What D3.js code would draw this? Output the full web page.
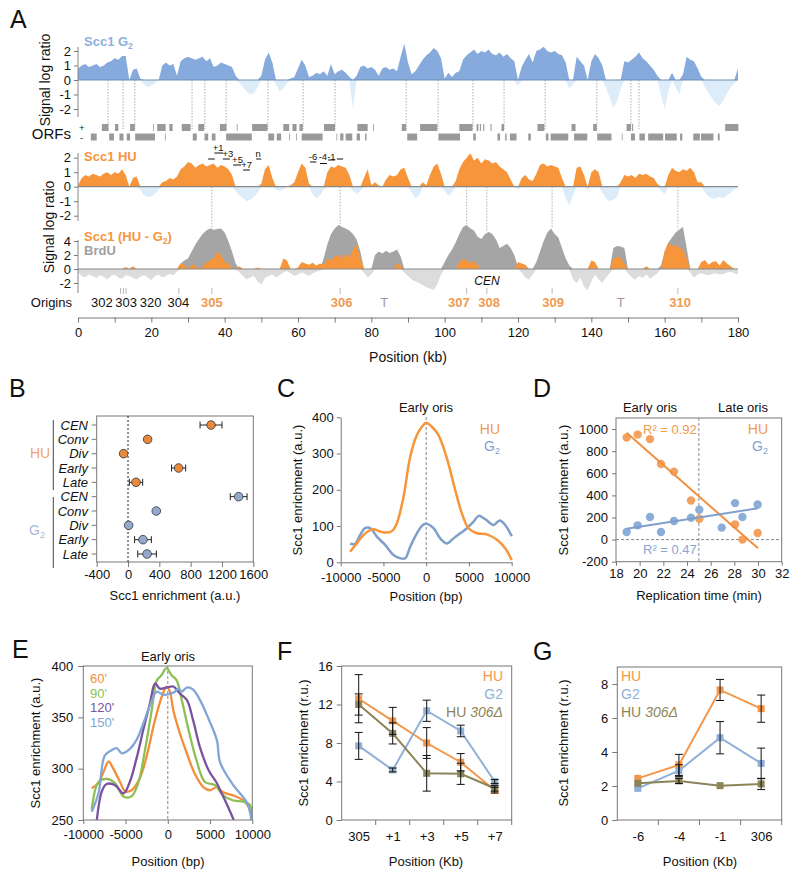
<!DOCTYPE html>
<html><head><meta charset="utf-8">
<script src="https://cdn.jsdelivr.net/npm/d3@7"></script>
<style>body{margin:0;background:#fff}svg{font-family:"Liberation Sans",Arial,sans-serif}</style>
</head><body><svg id="c" width="800" height="879"></svg>
<script>
const FONT = "'Liberation Sans', Arial, sans-serif";
// ---------------- Panel A data (1 kb bins, 0..180 kb) ----------------
const g2Signal = [0.8,1.0,1.1,0.9,1.0,1.1,0.9,1.0,1.2,1.3,
 1.5,1.4,1.65,1.65,0,0.7,0.8,0.1,-0.3,-0.5,
 -0.4,-0.2,0,1.0,1.2,1.0,1.1,0.3,1.3,1.5,
 1.6,1.5,1.4,1.5,1.6,1.3,1.5,0.9,1.0,1.2,
 1.1,1.0,0.9,0.3,-0.2,-0.5,-0.8,-1.0,-0.9,-0.5,
 0.3,1.4,1.9,1.2,-0.3,-0.8,-0.6,-0.2,0.1,0.2,
 0.8,1.4,1.0,0.2,0.3,0.5,0.4,0.6,0.3,1.1,
 0.4,0.6,0.7,0.5,0.2,-2.0,0.3,0.9,1.0,0.8,
 0.9,0.7,0.3,0.8,0.9,0.7,0.8,0.6,1.6,2.5,
 1.2,0.4,0.6,1.0,1.4,1.7,1.9,2.2,2.0,1.5,
 0.1,0.5,0.2,0.5,0.6,1.4,1.7,1.9,2.1,1.8,
 2.0,1.9,2.1,1.8,1.7,1.9,1.6,1.8,1.5,1.3,
 -0.4,0.9,1.4,1.8,1.2,2.0,2.1,2.3,2.0,1.9,
 2.0,1.8,1.7,1.2,-0.6,-0.3,1.6,1.3,1.0,0,
 1.3,1.8,1.5,1.0,-0.5,-1.2,-1.9,-1.5,-0.6,1.3,
 1.2,1.4,1.6,1.9,1.5,1.3,1.0,0.7,0.3,-1.0,
 -2.0,-0.8,0.5,-0.5,-1.0,0.4,1.6,1.4,1.3,0.8,
 0.2,-0.5,-0.9,-1.3,-1.6,-1.8,-1.4,-0.9,-0.5,-0.2,
 0.8];
const huSignal = [0.1,0.6,0.8,0.7,0.9,0.8,0.7,0.9,1.0,0.8,
 1.0,0.9,1.2,0.8,0,0.6,0.7,-0.2,-0.6,-0.7,
 -0.7,-0.5,-0.2,0.3,0.4,0.6,0.5,0.7,1.2,1.4,
 1.7,1.6,1.3,1.5,1.6,1.4,1.5,1.6,1.3,1.5,
 1.4,1.2,0.8,-0.3,-0.6,-0.8,-1.0,-0.9,-0.7,-0.4,
 0.2,1.2,1.5,0.6,-0.2,-0.3,-0.2,0,0.1,0.3,
 1.0,1.6,1.3,0.2,-0.5,-0.8,-0.6,-0.2,1.0,1.4,
 1.3,1.5,1.4,1.3,0.8,-0.3,-0.5,-0.3,0.6,1.2,
 0.1,0.3,0.1,0,0.5,0.8,0.7,0.8,1.2,1.3,
 0.6,-0.4,-0.8,-0.6,0.3,0.1,0.8,1.4,1.6,0.9,
 -0.3,-0.6,-0.4,0.4,1.2,1.7,2.0,2.3,1.8,2.0,
 1.6,1.9,1.8,1.6,1.7,1.4,1.2,1.0,0.5,0,
 -0.2,0.6,0.8,0.5,0.4,0.9,1.5,1.6,1.4,1.5,
 1.4,1.3,0.6,-0.8,-1.3,-0.6,1.3,1.4,0.8,-0.2,
 1.0,1.2,1.0,-0.4,-0.8,-1.0,-0.9,-0.7,0.3,0.8,
 0.7,0.8,0.6,0.9,0.8,0.9,0.7,0.6,0.2,-0.3,
 -0.5,0.8,1.3,1.1,1.0,1.2,1.1,1.3,1.0,0.3,
 0.3,-0.4,-0.7,-0.8,-0.8,-0.7,-0.8,-0.6,-0.4,-0.2,
 0];
const brduSignal = [-0.5,-1.0,-1.2,-0.8,-1.0,-1.3,-0.9,-1.1,-1.5,-1.0,
 -0.8,-1.2,-1.4,-0.9,-1.0,-1.3,-1.5,-1.1,-0.9,-1.2,
 -1.6,-1.0,-0.8,-1.2,-1.0,-0.7,-0.9,-0.4,0.8,1.2,
 1.5,2.5,3.5,4.3,5.0,5.5,5.8,5.6,5.7,5.8,
 5.2,4.0,2.5,0.8,-0.5,-1.0,-1.5,-1.2,-1.0,-1.8,
 -2.2,-1.3,-1.0,-0.8,-1.2,-0.9,-0.5,-0.3,-0.6,-1.0,
 -0.8,-0.5,-0.7,-1.0,-0.6,-0.4,-0.2,1.5,3.5,5.0,
 5.8,6.3,6.0,5.8,5.5,5.0,4.2,2.5,-0.5,-1.2,
 -0.8,2.0,2.5,2.2,2.6,2.3,2.5,2.8,1.8,-0.5,
 -1.0,-1.5,-1.8,-2.0,-2.3,-2.6,-2.8,-3.0,-2.2,-0.8,
 1.0,2.0,2.8,3.8,5.0,6.0,6.3,5.8,5.5,4.6,
 4.3,5.0,5.3,5.0,4.2,3.0,3.3,3.6,3.0,2.0,
 0.3,-0.5,-1.2,-1.5,-0.8,1.0,2.5,4.0,5.2,5.8,
 5.0,4.5,3.0,1.5,0.5,-1.5,-2.0,-1.2,-2.5,-3.0,
 -1.8,-0.8,-1.5,-2.0,-1.2,-0.6,3.0,3.3,3.2,3.0,
 -0.6,-1.2,-1.5,-1.0,-1.3,-0.8,-1.4,-1.0,-0.6,0.5,
 2.5,3.8,4.5,5.2,5.6,6.0,3.0,-0.5,-1.2,-0.8,
 -0.6,-0.8,-0.9,-0.7,-0.6,-0.8,-0.7,-0.5,-0.4,-0.6,
 -0.8];
const huMinusG2 = [0,0,0,0,0,0,0,0,0,0,
 0,0,0,0.3,0,0.4,0,0,0,0,
 0,0,0,0,0,0,0,0,0.8,0.6,
 0,0.6,0.5,0,0.3,1.0,1.2,1.5,2.5,2.0,
 1.0,0.8,0,0,0.4,0,0,0,0,0.2,
 0,0,0,0,0,0,1.5,1.2,0,0,
 0.2,1.0,0.8,0.6,0.9,0.5,0.8,0.6,1.5,1.2,
 1.8,2.0,1.5,2.2,1.6,2.8,3.5,1.5,0,0,
 0,0,0,0,0,0,0,0.8,0.5,0,
 0,0,0,0,0,0,0,0,0,0,
 0,0,0,0,1.0,1.4,1.3,0.8,1.2,0.5,
 0,0,0,0,0,0,0,0,0,0,
 1.0,0.8,0.6,0,0,0,0,0,0,0,
 0,0,0,0,0,0,0,0,0,0,
 1.2,1.0,0,0,0,0,1.5,1.7,1.6,0.8,
 0,0,0,0,0,0.4,0,0,0,0,
 2.5,3.8,3.2,3.5,3.0,2.8,1.5,0,0,0,
 1.0,1.3,0.6,1.0,1.1,0.5,1.3,0.8,0.4,0,
 0];
const orfPlus = [[6.5,8.3],[10.1,11],[14.2,15.5],[20.5,20.7],[21.6,23.9],[24.9,25.8],[28.3,30.7],[32.8,34.4],[38.7,40.5],[43.3,43.5],[47.5,51.7],[56,57.6],[58.5,59.6],[60.4,61.3],[67.1,70.1],[76.2,79],[80.5,80.7],
 [88.3,89.5],[93.3,98],[104,107.6],[108.7,109.2],[109.6,109.9],[110.5,110.8],[112.5,112.8],[115.5,116.2],[125.3,127.2],[134.6,135.7],[140.5,141.5],[149.6,150.8],[151.1,151.4],[176.5,180.1]];
const orfMinus = [[3.5,5.1],[8.5,9.8],[11.3,12.4],[13.3,14.2],[15.6,21],[23.7,23.9],[31.3,32.4],[34.5,35.5],[36.5,37.5],[40.4,47.4],[51.9,53.5],[54.2,55.4],[57.6,57.8],[59.5,59.6],[61,66.7],[70.5,70.7],[71.5,72.4],[73,74.8],[76,76.9],[78.3,78.7],
 [89.8,92.5],[98.3,104.2],[107.8,108.5],[114.4,115.1],[116.5,116.9],[117.8,119.6],[122.8,123.5],[127.6,128.3],[128.9,133.7],[135.3,138.9],[141.6,145.5],[148.3,148.5],[150.8,151.9],[153.1,154.6],[155.5,159.6],[160.1,163.3],[164.2,164.8],[167.8,169.6],[169.9,173.3],[174.5,175]];
const g2MarkKb = [8.2,12.3,15.5,31.1,34.6,40.4,51.8,61.4,70.1,89.5,98.2,107.7,116.2,127.4,141.5,150.8,153];
const earlyOriKb = [36.5,71.5,106,111.5,129.3,163.6];
const originTickKb = [11.6,12.4,13.1,27.5,36.5,71.5,106,111.5,129.3,163.6];
const originNames = ["302","303","320","304","305","306","T","307","308","309","T","310"];
const originLabelKb = [6.5,13.1,19.8,27.4,36.5,71.9,83.5,103.9,112.1,129.6,148,164.2];
const originKind = ["late","late","late","late","early","early","t","early","early","early","t","early"];
const primerNames = ["+1","+3","+5","+7","n","-6","-4","-1"];
const primerLabelKb = [38.2,40.9,43.5,46,49.1,64.1,66.8,69.1];
const primerDashKb = [[35.5,37.3],[37.2,39.6],[39.5,41.4],[42.3,44.5],[45,46.9],[48.6,50],[63.3,65],[66,67.9],[68.2,70.1],[70.6,72.3]];
const primerDashY = [159,153,159,165,170,159,162,163.5,160,159];
const primerLabelY = [151,157,163,168,157,160,160,160];
const xTicksA = d3.range(0,181,10);

// ---------------- Panel B ----------------
const bRows = ["CEN","Conv","Div","Early","Late","CEN","Conv","Div","Early","Late"];
const bGroup = ["HU","HU","HU","HU","HU","G2","G2","G2","G2","G2"];
const bValue = [1060,250,-56,646,102,1413,361,8,191,243];
const bErr = [140,0,0,90,85,107,0,0,107,119];

// ---------------- Panel C ----------------
const cHUx = [-8900,-8130,-7350,-6550,-6160,-5380,-4600,-4020,-3430,-2650,-1870,-1090,-500,0,660,1440,2420,3390,4170,4950,5930,7100,8270,9240,10000];
const cHUy = [29,52,75,89,91,85,82,86,108,181,291,351,374,385,374,351,287,200,135,94,80,77,62,39,6];
const cG2x = [-8900,-8300,-7740,-7150,-6550,-5770,-4800,-3820,-3040,-2460,-1870,-1090,-390,80,860,1640,2420,3200,3980,4760,5540,6120,6900,7880,8580,9240,9830,10000];
const cG2y = [51,51,75,94,94,71,48,20,11,11,43,80,103,106,94,66,52,66,80,94,112,128,119,103,115,103,80,72];

// ---------------- Panel D ----------------
const dTime = [18.9,19.83,20.87,21.8,22.9,24.34,25.04,28.06,28.68,29.97];
const dTimeG2 = [18.9,19.83,20.87,21.8,22.9,24.34,25.04,26.93,28.06,28.68,29.97];
const dHU = [924,950,909,684,615,354,189,138,0,60];
const dG2 = [69,129,204,69,168,198,270,108,330,204,318];

// ---------------- Panel E ----------------
const e60x = [-9000,-8200,-7600,-7000,-6450,-5650,-5050,-4300,-3300,-2500,-1700,-1100,-500,-150,250,650,1450,2250,3200,4200,5000,5800,6550,7750,8950,9900,10000];
const e60y = [281,286,297,307,300,287,278,279,291,312,341,360,375,380,375,357,334,315,295,282,279,282,277,274,269,258,256];
const e90x = [-9000,-8200,-7250,-6250,-5250,-4300,-3500,-2700,-1900,-1300,-750,-150,450,1050,1650,2450,3400,4400,5600,6550,7750,8950,9700,10000];
const e90y = [260,287,290,286,273,273,286,318,357,386,391,398,391,386,367,338,308,287,284,274,269,268,265,250];
const e120x = [-8400,-7800,-7250,-6250,-5250,-4500,-3700,-2900,-2100,-1500,-950,-150,650,1450,2250,3000,3800,4800,5800,6200,7000,7800];
const e120y = [250,278,285,284,276,287,310,338,364,383,378,379,380,373,367,347,321,299,286,279,265,250];
const e150x = [-9000,-8200,-7450,-6650,-6050,-5450,-4650,-3700,-2900,-2100,-1300,-550,250,850,1250,1650,2250,3000,3800,4800,5800,6200,7750,9350,9900];
const e150y = [258,276,313,318,320,315,318,328,344,362,375,372,373,375,378,375,379,377,367,349,328,306,284,267,250];

// ---------------- Panel F ----------------
const fCats = ["305","+1","+3","+5","+7"];
const fHU = [12.6,10.3,8.0,6.0,3.1], fHUerr = [2.5,1.4,1.6,0.9,0.3];
const fG2 = [7.7,5.2,11.35,9.25,4.0], fG2err = [1.4,0.2,1.1,0.6,0.2];
const fHU306 = [12.0,9.0,4.85,4.8,3.3], fHU306err = [1.1,1.1,1.85,1.1,0.3];

// ---------------- Panel G ----------------
const gCats = ["-6","-4","-1","306"];
const gHU = [2.45,3.24,7.65,6.55], gHUerr = [0.1,0.62,0.62,0.8];
const gG2 = [1.86,2.9,4.84,3.33], gG2err = [0.1,0.35,0.95,0.9];
const gHU306 = [2.16,2.3,2.02,2.12], gHU306err = [0.1,0.15,0.05,0.33];

// ---------------- colours ----------------
const C_BLUE = "#86aadc", C_LBLUE = "#dcecf8", C_ORANGE = "#f7953b", C_GRAY = "#a5a5a5", C_LGRAY = "#dcdcdc";
const C_OLIVE = "#8c8458";

const svg = d3.select("#c");
function txt(x, y, s, o = {}) {
  const t = svg.append("text").attr("x", x).attr("y", y).text(s)
    .attr("font-size", o.size || 13).attr("fill", o.fill || "#111")
    .attr("text-anchor", o.anchor || "start").attr("font-family", FONT);
  if (o.weight) t.attr("font-weight", o.weight);
  if (o.italic) t.attr("font-style", "italic");
  if (o.rotate) t.attr("transform", `rotate(-90 ${x} ${y})`);
  return t;
}
function subTxt(x, y, a, b, o = {}) {
  const t = txt(x, y, "", o);
  t.append("tspan").text(a);
  t.append("tspan").text(b).attr("font-size", (o.size || 13) * 0.65).attr("dy", 3);
  return t;
}
function styleAx(g, size = 13) {
  g.attr("font-family", FONT);
  g.select(".domain").attr("stroke", "#777");
  g.selectAll(".tick line").attr("stroke", "#777");
  g.selectAll(".tick text").attr("font-size", size).attr("fill", "#111");
  return g;
}
const fmt = d => String(d);

// ======================= PANEL A =======================
txt(10, 28, "A", {size: 25});
const xA = d3.scaleLinear([0, 180], [78, 738]);
const yG2 = d3.scaleLinear([-2, 2], [109, 51]);
const yHU = d3.scaleLinear([-2, 2], [215.7, 157.7]);
const yDf = d3.scaleLinear([-2, 4], [283, 241]);
const kb = d3.range(0, 181);

function signalTrack(vals, y, posCol, negCol, showNeg = true) {
  const pos = d3.area().x((d, i) => xA(kb[i])).y0(y(0)).y1(d => y(Math.max(d, 0)));
  const neg = d3.area().x((d, i) => xA(kb[i])).y0(y(0)).y1(d => y(Math.min(d, 0)));
  if (showNeg) svg.append("path").attr("d", neg(vals)).attr("fill", negCol);
  svg.append("path").attr("d", pos(vals)).attr("fill", posCol);
}
function trackAxis(y, ticks, top, bot, zeroCol) {
  const g = svg.append("g").attr("transform", "translate(78,0)")
    .call(d3.axisLeft(y).tickValues(ticks).tickFormat(fmt).tickSize(4).tickPadding(3));
  styleAx(g, 13);
  g.select(".domain").remove();
  svg.append("line").attr("x1", 78).attr("x2", 78).attr("y1", top).attr("y2", bot).attr("stroke", "#888");
  svg.append("line").attr("x1", 78).attr("x2", 738).attr("y1", y(0)).attr("y2", y(0)).attr("stroke", zeroCol).attr("stroke-width", 1.2);
}
// track 1
signalTrack(g2Signal, yG2, C_BLUE, C_LBLUE);
trackAxis(yG2, [2, 1, 0, -1, -2], 47, 117, "#6f8db5");
subTxt(84, 46, "Scc1 G", "2", {size: 13, weight: "bold", fill: "#8fb0dc"});
g2MarkKb.forEach(k => svg.append("line").attr("x1", xA(k)).attr("x2", xA(k)).attr("y1", yG2(0)).attr("y2", 129)
  .attr("stroke", "#999").attr("stroke-dasharray", "1.5,1.5").attr("stroke-width", 0.8));
txt(50, 80, "Signal log ratio", {size: 14, anchor: "middle", rotate: true});
// ORFs
txt(71, 139, "ORFs", {size: 15, anchor: "end"});
txt(79, 130.5, "+", {size: 9.5});
txt(80, 141, "-", {size: 9.5});
orfPlus.forEach(o => svg.append("rect").attr("x", xA(o[0])).attr("width", Math.max(0.8, xA(o[1]) - xA(o[0])))
  .attr("y", 124).attr("height", 7).attr("fill", "#999"));
orfMinus.forEach(o => svg.append("rect").attr("x", xA(o[0])).attr("width", Math.max(0.8, xA(o[1]) - xA(o[0])))
  .attr("y", 133.5).attr("height", 7).attr("fill", "#999"));
// track 2
signalTrack(huSignal, yHU, C_ORANGE, C_LBLUE);
trackAxis(yHU, [2, 1, 0, -1, -2], 153, 221, "#888");
txt(84, 161, "Scc1 HU", {size: 13, weight: "bold", fill: C_ORANGE});
primerNames.forEach((p, i) => txt(xA(primerLabelKb[i]), primerLabelY[i], p, {size: 9.5, anchor: "middle"}));
primerDashKb.forEach((d, i) => svg.append("line").attr("x1", xA(d[0])).attr("x2", xA(d[1]))
  .attr("y1", primerDashY[i]).attr("y2", primerDashY[i]).attr("stroke", "#111").attr("stroke-width", 1));
// track 3
signalTrack(brduSignal, yDf, C_GRAY, C_LGRAY);
signalTrack(huMinusG2, yDf, C_ORANGE, C_LGRAY, false);
trackAxis(yDf, [4, 2, 0, -2], 240, 293, "#888");
earlyOriKb.forEach(k => {
  const v = brduSignal[Math.round(k)];
  svg.append("line").attr("x1", xA(k)).attr("x2", xA(k)).attr("y1", yHU(0)).attr("y2", yDf(v))
    .attr("stroke", "#999").attr("stroke-dasharray", "1.5,1.5").attr("stroke-width", 0.8);
});
subTxt(84, 241, "Scc1 (HU - G", "2", {size: 13, weight: "bold", fill: C_ORANGE}).append("tspan").attr("dy", -3).text(")");
txt(84, 255, "BrdU", {size: 13, weight: "bold", fill: "#a0a0a0"});
txt(54, 227, "Signal log ratio", {size: 14, anchor: "middle", rotate: true});
txt(487, 285, "CEN", {size: 12, italic: true, anchor: "middle"});
// origins
txt(72, 307, "Origins", {size: 13, anchor: "end"});
originTickKb.forEach(k => svg.append("line").attr("x1", xA(k)).attr("x2", xA(k)).attr("y1", 288).attr("y2", 294)
  .attr("stroke", "#aaa").attr("stroke-width", 0.8));
originNames.forEach((n, i) => {
  const k = originKind[i];
  txt(xA(originLabelKb[i]), 307, n, {size: 13, anchor: "middle",
    fill: k === "early" ? "#f09a52" : (k === "t" ? "#9a9a9a" : "#111"), weight: k === "early" ? "bold" : null});
});
// x axis
const gxA = svg.append("g").attr("transform", "translate(0,317.5)")
  .call(d3.axisBottom(xA).tickValues(xTicksA).tickFormat(d => d % 20 === 0 ? d : "").tickSize(5).tickSizeOuter(0).tickPadding(5));
styleAx(gxA, 13);
txt(408, 362, "Position (kb)", {size: 14, anchor: "middle"});

// ======================= PANEL B =======================
txt(9, 397, "B", {size: 25});
const xB = d3.scaleLinear([-400, 1600], [96.7, 253.3]);
const yB = d3.scalePoint().domain(d3.range(10)).range([425, 554]);
svg.append("rect").attr("x", 96.7).attr("y", 416).attr("width", 253.3 - 96.7).attr("height", 146).attr("fill", "none").attr("stroke", "#777");
const gxB = svg.append("g").attr("transform", "translate(0,562)").call(d3.axisBottom(xB).tickValues([-400,0,400,800,1200,1600]).tickFormat(fmt).tickSize(5).tickSizeOuter(0));
styleAx(gxB); gxB.select(".domain").remove();
d3.range(10).forEach(i => {
  svg.append("line").attr("x1", 91.7).attr("x2", 96.7).attr("y1", yB(i)).attr("y2", yB(i)).attr("stroke", "#777");
  txt(88, yB(i) + 4.5, bRows[i], {size: 13, italic: true, anchor: "end"});
});
svg.append("line").attr("x1", xB(0)).attr("x2", xB(0)).attr("y1", 416).attr("y2", 562).attr("stroke", "#222").attr("stroke-dasharray", "2,2");
d3.range(10).forEach(i => {
  const y = yB(i), v = bValue[i], e = bErr[i];
  if (e > 0) {
    svg.append("line").attr("x1", xB(v - e)).attr("x2", xB(v + e)).attr("y1", y).attr("y2", y).attr("stroke", "#222");
    [v - e, v + e].forEach(z => svg.append("line").attr("x1", xB(z)).attr("x2", xB(z)).attr("y1", y - 3.5).attr("y2", y + 3.5).attr("stroke", "#222"));
  }
  svg.append("circle").attr("cx", xB(v)).attr("cy", y).attr("r", 4.3)
    .attr("fill", bGroup[i] === "HU" ? "#e8893c" : "#93aacd").attr("stroke", "#333").attr("stroke-width", 0.8);
});
svg.append("line").attr("x1", 53.3).attr("x2", 53.3).attr("y1", 420).attr("y2", 490).attr("stroke", "#444");
svg.append("line").attr("x1", 53.3).attr("x2", 53.3).attr("y1", 497).attr("y2", 568).attr("stroke", "#444");
txt(40, 458, "HU", {size: 14, anchor: "middle", fill: "#f0a468"});
subTxt(37, 535, "G", "2", {size: 14, anchor: "middle", fill: "#a9b9d8"});
txt(175, 600, "Scc1 enrichment (a.u.)", {size: 13, anchor: "middle"});

// ======================= PANEL C =======================
txt(277, 397, "C", {size: 25});
const xC = d3.scaleLinear([-10000, 10000], [340.7, 511.7]);
const yC = d3.scaleLinear([0, 400], [562.3, 417.3]);
const gyC = svg.append("g").attr("transform", "translate(340.7,0)").call(d3.axisLeft(yC).ticks(4).tickFormat(fmt).tickSize(4).tickPadding(3).tickSizeOuter(0));
styleAx(gyC);
const gxC = svg.append("g").attr("transform", "translate(0,562.3)").call(d3.axisBottom(xC).tickValues([-10000,-5000,0,5000,10000]).tickFormat(fmt).tickSize(4).tickPadding(6).tickSizeOuter(0));
styleAx(gxC);
svg.append("line").attr("x1", xC(0)).attr("x2", xC(0)).attr("y1", 417).attr("y2", 562).attr("stroke", "#888").attr("stroke-dasharray", "3,2");
const lineC = d3.line().curve(d3.curveCatmullRom.alpha(0.5));
svg.append("path").attr("d", lineC(cG2x.map((x, i) => [xC(x), yC(cG2y[i])]))).attr("fill", "none").attr("stroke", "#7f9fcb").attr("stroke-width", 2.5);
svg.append("path").attr("d", lineC(cHUx.map((x, i) => [xC(x), yC(cHUy[i])]))).attr("fill", "none").attr("stroke", C_ORANGE).attr("stroke-width", 2.5);
txt(426, 412, "Early oris", {size: 13, anchor: "middle"});
txt(500, 434, "HU", {size: 14, anchor: "end", fill: "#f39a4c"});
subTxt(500, 451, "G", "2", {size: 14, anchor: "end", fill: "#7f9fcb"});
txt(302, 490, "Scc1 enrichment (a.u.)", {size: 13, anchor: "middle", rotate: true});
txt(426, 601, "Position (bp)", {size: 13, anchor: "middle"});

// ======================= PANEL D =======================
txt(533, 397, "D", {size: 25});
const xD = d3.scaleLinear([18, 32], [616, 781.7]);
const yD = d3.scaleLinear([-200, 1100], [561.7, 418]);
svg.append("rect").attr("x", 616).attr("y", 418).attr("width", 165.7).attr("height", 143.7).attr("fill", "none").attr("stroke", "#777");
const gyD = svg.append("g").attr("transform", "translate(616,0)").call(d3.axisLeft(yD).tickValues(d3.range(-200, 1001, 200)).tickFormat(fmt).tickSize(4).tickPadding(4).tickSizeOuter(0));
styleAx(gyD); gyD.select(".domain").remove();
const gxD = svg.append("g").attr("transform", "translate(0,561.7)").call(d3.axisBottom(xD).tickValues(d3.range(18, 33, 2)).tickFormat(fmt).tickSize(4).tickSizeOuter(0));
styleAx(gxD); gxD.select(".domain").remove();
svg.append("line").attr("x1", xD(25)).attr("x2", xD(25)).attr("y1", 418).attr("y2", 561.7).attr("stroke", "#888").attr("stroke-dasharray", "3,2");
svg.append("line").attr("x1", 616).attr("x2", 781.7).attr("y1", yD(0)).attr("y2", yD(0)).attr("stroke", "#888").attr("stroke-dasharray", "3,2");
function linfit(xs, ys) {
  const mx = d3.mean(xs), my = d3.mean(ys);
  const b = d3.sum(xs, (x, i) => (x - mx) * (ys[i] - my)) / d3.sum(xs, x => (x - mx) ** 2);
  return x => my + b * (x - mx);
}
const fHUfit = linfit(dTime, dHU), fG2fit = linfit(dTimeG2, dG2);
dTime.forEach((t, i) => svg.append("circle").attr("cx", xD(t)).attr("cy", yD(dHU[i])).attr("r", 4.2).attr("fill", "#f4a160"));
dTimeG2.forEach((t, i) => svg.append("circle").attr("cx", xD(t)).attr("cy", yD(dG2[i])).attr("r", 4.2).attr("fill", "#8badd8"));
svg.append("line").attr("x1", xD(18.9)).attr("x2", xD(30)).attr("y1", yD(fHUfit(18.9))).attr("y2", yD(fHUfit(30))).attr("stroke", "#f0903e").attr("stroke-width", 2);
svg.append("line").attr("x1", xD(18.9)).attr("x2", xD(30)).attr("y1", yD(fG2fit(18.9))).attr("y2", yD(fG2fit(30))).attr("stroke", "#7e9fcc").attr("stroke-width", 2);
txt(650, 412, "Early oris", {size: 13, anchor: "middle"});
txt(743, 412, "Late oris", {size: 13, anchor: "middle"});
txt(643, 434, "R² = 0.92", {size: 13, fill: "#f39a4c"});
txt(643, 554, "R² = 0.47", {size: 13, fill: "#8aa7d2"});
txt(768, 434, "HU", {size: 14, anchor: "end", fill: "#f39a4c"});
subTxt(768, 451, "G", "2", {size: 14, anchor: "end", fill: "#7f9fcb"});
txt(568, 490, "Scc1 enrichment (a.u.)", {size: 13, anchor: "middle", rotate: true});
txt(699, 600, "Replication time (min)", {size: 13, anchor: "middle"});

// ======================= PANEL E =======================
txt(12, 658, "E", {size: 25});
const xE = d3.scaleLinear([-10000, 10000], [83.3, 252.3]);
const yE = d3.scaleLinear([250, 400], [820, 666]);
svg.append("clipPath").attr("id", "clipE").append("rect").attr("x", 83.3).attr("y", 666).attr("width", 169).attr("height", 154);
const gyE = svg.append("g").attr("transform", "translate(83.3,0)").call(d3.axisLeft(yE).tickValues([250,300,350,400]).tickFormat(fmt).tickSize(5).tickPadding(5).tickSizeOuter(0));
styleAx(gyE); gyE.select(".domain").remove();
const gxE = svg.append("g").attr("transform", "translate(0,820)").call(d3.axisBottom(xE).tickValues([-10000,-5000,0,5000,10000]).tickFormat(fmt).tickSize(4).tickPadding(6).tickSizeOuter(0));
styleAx(gxE); gxE.select(".domain").remove();
svg.append("line").attr("x1", xE(0)).attr("x2", xE(0)).attr("y1", 666).attr("y2", 820).attr("stroke", "#888").attr("stroke-dasharray", "3,2");
const eSeries = [[e60x, e60y, "#f28e3b"], [e90x, e90y, "#8dbf55"], [e120x, e120y, "#7a52a0"], [e150x, e150y, "#80a5d6"]];
const gE = svg.append("g").attr("clip-path", "url(#clipE)");
eSeries.forEach(s => gE.append("path").attr("d", lineC(s[0].map((x, i) => [xE(x), yE(s[1][i])])))
  .attr("fill", "none").attr("stroke", s[2]).attr("stroke-width", 2.3));
svg.append("rect").attr("x", 83.3).attr("y", 666).attr("width", 169).attr("height", 154).attr("fill", "none").attr("stroke", "#777");
txt(168, 661, "Early oris", {size: 13, anchor: "middle"});
["60'", "90'", "120'", "150'"].forEach((l, i) => txt(90, 683 + i * 14.5, l, {size: 13, fill: eSeries[i][2]}));
txt(40, 743, "Scc1 enrichment (a.u.)", {size: 13, anchor: "middle", rotate: true});
txt(168, 866, "Position (bp)", {size: 13, anchor: "middle"});

// ======================= PANELS F, G =======================
function catPanel(cats, x0, x1, ymax, yticks, series, legX, legAnchor) {
  const x = d3.scalePoint().domain(cats).range([x0, x1]).padding(0.5);
  const step = x.step();
  const y = d3.scaleLinear([0, ymax], [820, 666 + (ymax === 9 ? 1 : 0)]);
  svg.append("rect").attr("x", x0).attr("y", y(ymax)).attr("width", x1 - x0).attr("height", 820 - y(ymax)).attr("fill", "none").attr("stroke", "#777");
  const gy = svg.append("g").attr("transform", `translate(${x0},0)`).call(d3.axisLeft(y).tickValues(yticks).tickFormat(fmt).tickSize(5).tickPadding(4).tickSizeOuter(0));
  styleAx(gy); gy.select(".domain").remove();
  const gx = svg.append("g").attr("transform", "translate(0,820)").call(d3.axisBottom(x).tickSize(0).tickPadding(12).tickSizeOuter(0));
  styleAx(gx); gx.select(".domain").remove();
  cats.forEach((c, i) => svg.append("line").attr("x1", x(c) + step / 2).attr("x2", x(c) + step / 2).attr("y1", 820).attr("y2", 825).attr("stroke", "#777"));
  const line = d3.line();
  series.forEach(s => svg.append("path").attr("d", line(s.v.map((v, i) => [x(cats[i]), y(v)])))
    .attr("fill", "none").attr("stroke", s.c).attr("stroke-width", 2));
  series.forEach(s => s.v.forEach((v, i) => svg.append("rect").attr("x", x(cats[i]) - 3.5).attr("y", y(v) - 3.5)
    .attr("width", 7).attr("height", 7).attr("fill", s.c)));
  series.forEach(s => s.v.forEach((v, i) => {
    const cx = x(cats[i]), e = s.e[i];
    if (e < 0.15) return;
    svg.append("line").attr("x1", cx).attr("x2", cx).attr("y1", y(v - e)).attr("y2", y(v + e)).attr("stroke", "#111");
    [v - e, v + e].forEach(z => svg.append("line").attr("x1", cx - 4).attr("x2", cx + 4).attr("y1", y(z)).attr("y2", y(z)).attr("stroke", "#111"));
  }));
  const names = ["HU", "G2", "HU "];
  series.forEach((s, i) => {
    const t = txt(legX, 681 + i * 18, names[i], {size: 14, anchor: legAnchor, fill: s.c});
    if (i === 2) t.append("tspan").text("306Δ").attr("font-style", "italic");
  });
  return x;
}
txt(277, 660, "F", {size: 25});
catPanel(fCats, 341.7, 511.7, 16, [0, 4, 8, 12, 16], [
  {v: fHU, e: fHUerr, c: "#f4964a"}, {v: fG2, e: fG2err, c: "#8fb0d8"}, {v: fHU306, e: fHU306err, c: C_OLIVE}], 503, "end");
txt(308, 743, "Scc1 enrichment (r.u.)", {size: 13, anchor: "middle", rotate: true});
txt(426, 866, "Position (Kb)", {size: 13, anchor: "middle"});

txt(533, 660, "G", {size: 25});
catPanel(gCats, 617.3, 781.7, 9, [0, 2, 4, 6, 8], [
  {v: gHU, e: gHUerr, c: "#f4964a"}, {v: gG2, e: gG2err, c: "#8fb0d8"}, {v: gHU306, e: gHU306err, c: C_OLIVE}], 621, "start");
txt(568, 743, "Scc1 enrichment (r.u.)", {size: 13, anchor: "middle", rotate: true});
txt(700, 866, "Position (Kb)", {size: 13, anchor: "middle"});
</script></body></html>
